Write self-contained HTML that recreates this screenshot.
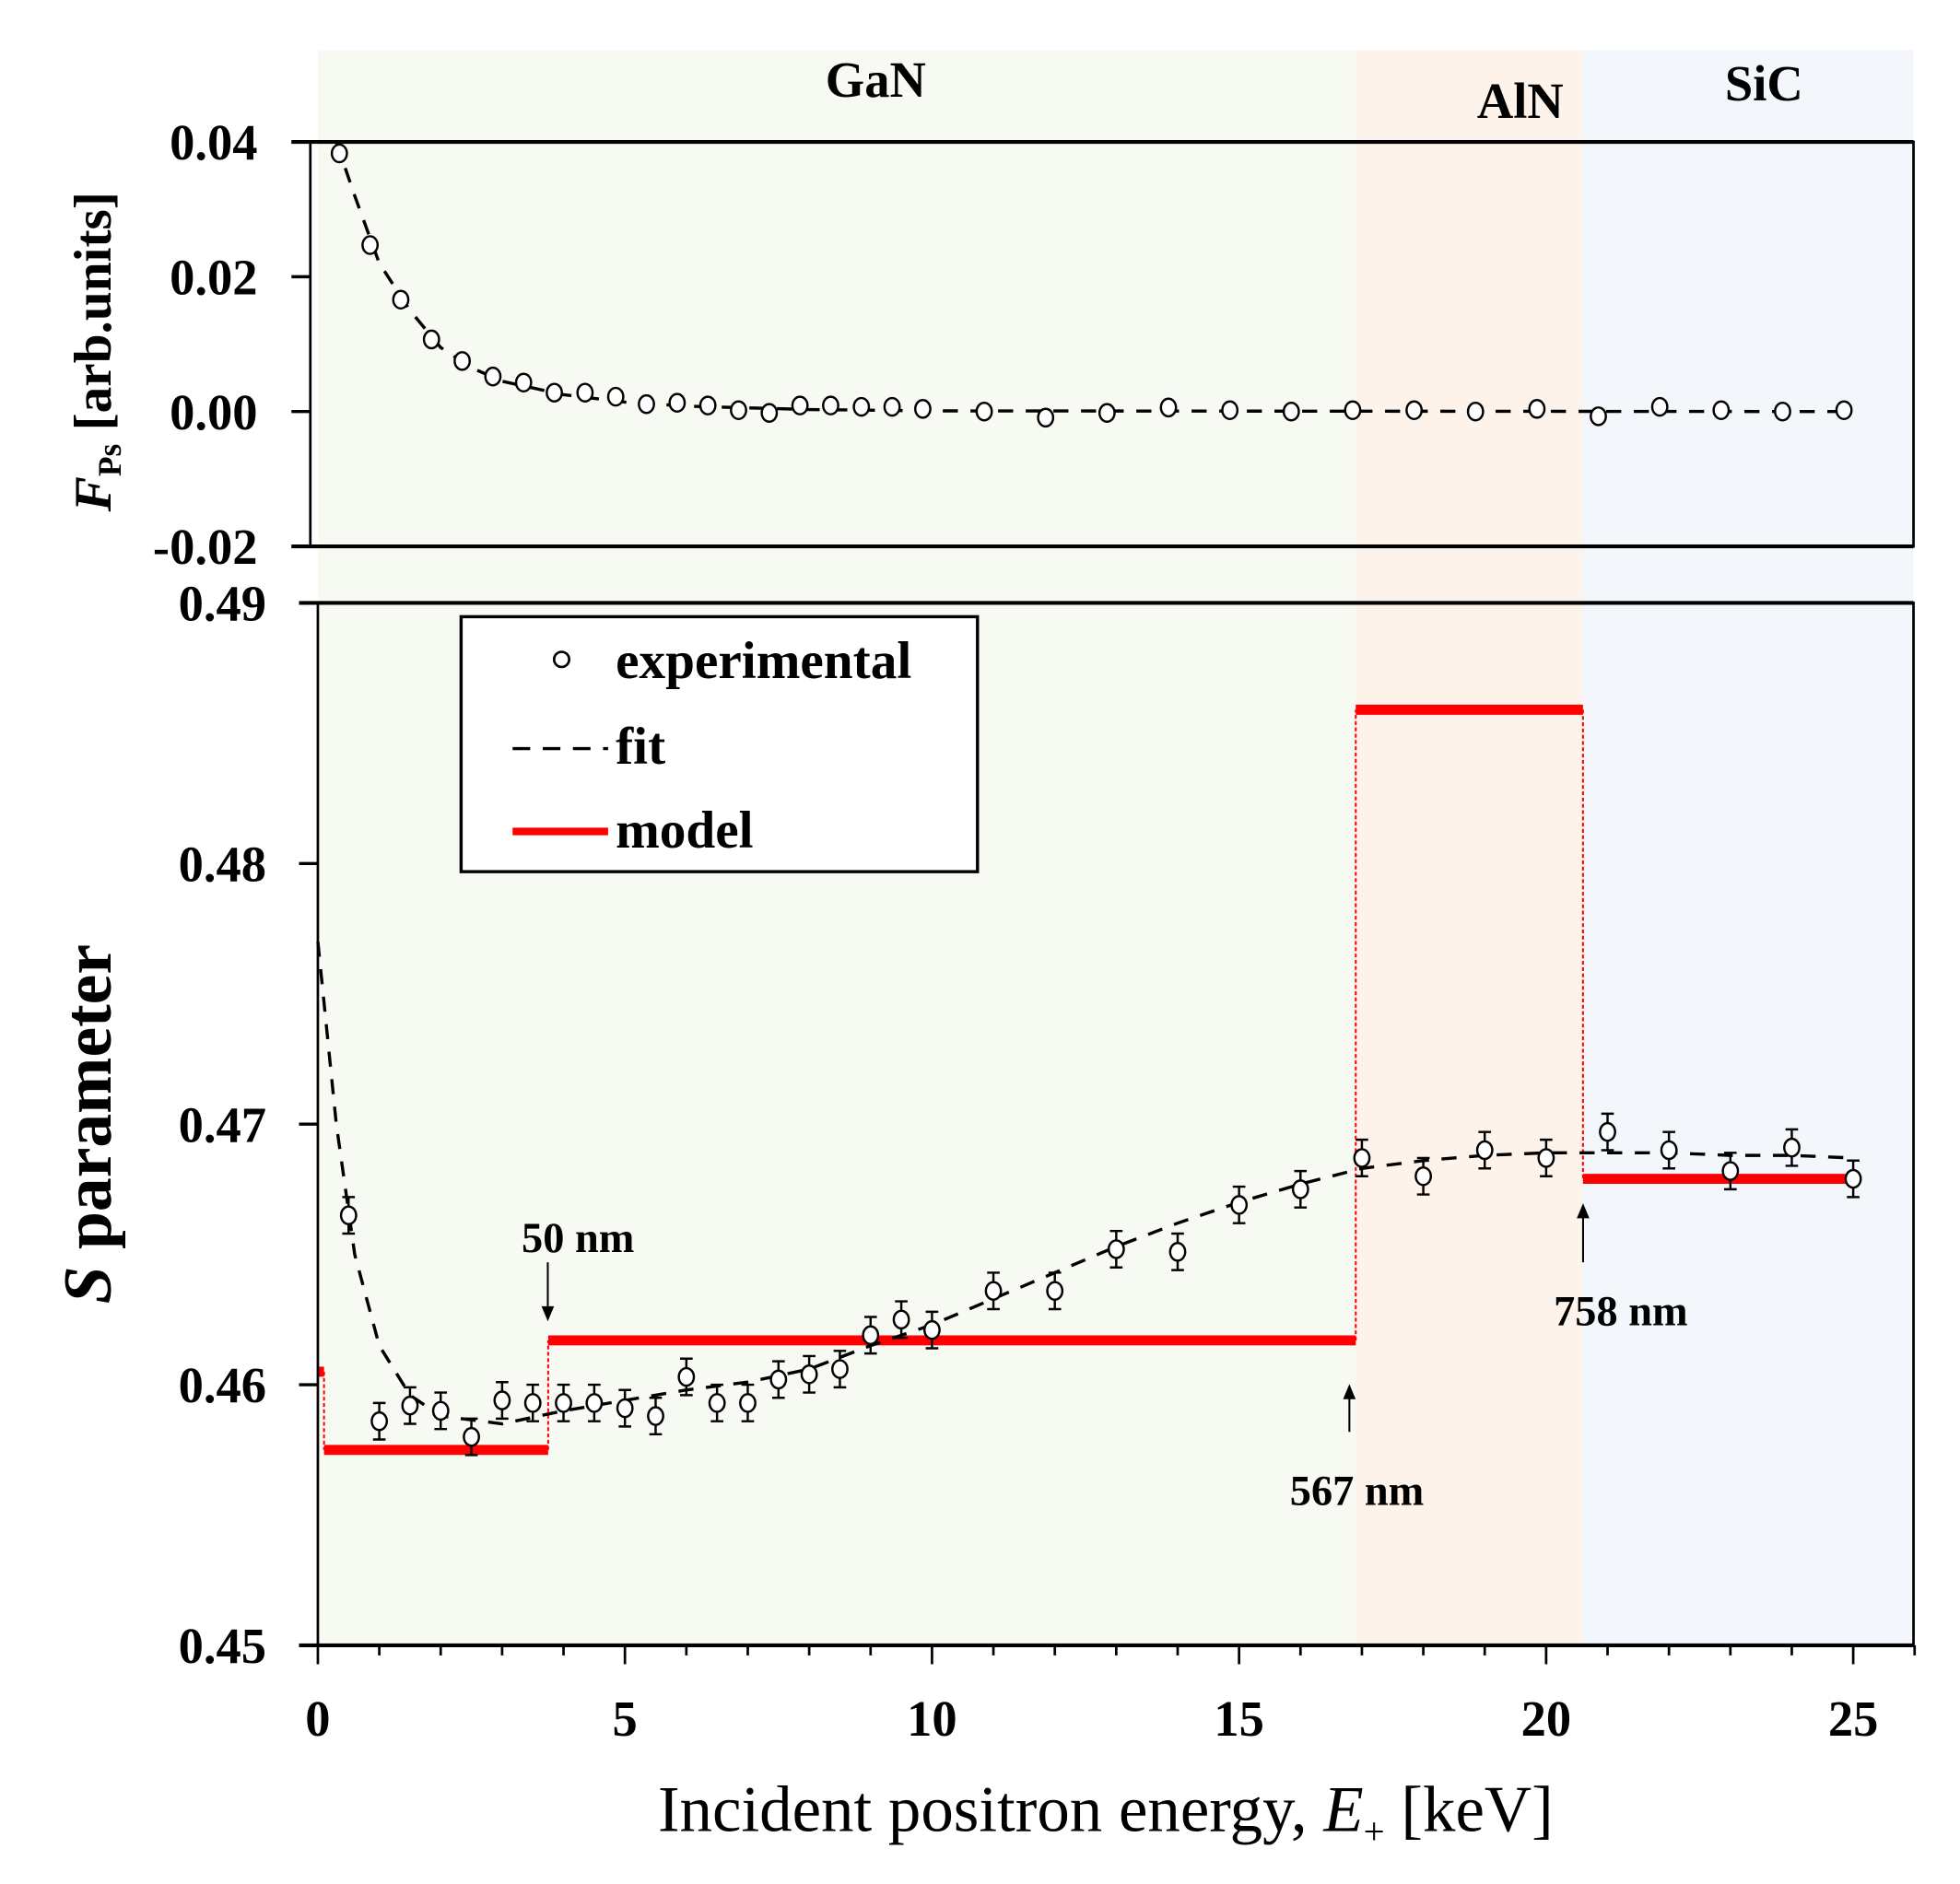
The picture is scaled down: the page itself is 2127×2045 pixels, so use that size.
<!DOCTYPE html>
<html><head><meta charset="utf-8"><style>
html,body{margin:0;padding:0;background:#fff;}
svg{display:block;font-family:"Liberation Serif",serif;}
</style></head><body>
<svg id="chart" width="2127" height="2045" viewBox="0 0 1560 1500" preserveAspectRatio="none" xmlns="http://www.w3.org/2000/svg">
<g id="bg"></g><g id="top"></g><g id="bot"></g><g id="axes"></g>
</svg>
<script>
// ---- data ----
const layerNames = ["GaN","AlN","SiC"];
const layerBounds = [0, 16.9, 20.6, 26];
const sE = [0.5,1,1.5,2,2.5,3,3.5,4,4.5,5,5.5,6,6.5,7,7.5,8,8.5,9,9.5,10,11,12,13,14,15,16,17,18,19,20,21,22,23,24,25];
const sVal = [0.4665,0.4586,0.4592,0.4590,0.4580,0.4594,0.4593,0.4593,0.4593,0.4591,0.4588,0.4603,0.4593,0.4593,0.4602,0.4604,0.4606,0.4619,0.4625,0.4621,0.4636,0.4636,0.4652,0.4651,0.4669,0.4675,0.4687,0.4680,0.4690,0.4687,0.4697,0.4690,0.4682,0.4691,0.4679];
const sErr = 0.0007;
const sFitE = [0,0.3,0.6,1,1.5,2,3,4,5,6,7,8,9,10,11,12,13,14,15,16,17,18,19,20,21,22,23,24,25];
const sFitV = [0.4770,0.4700,0.4650,0.4615,0.4596,0.4588,0.4585,0.4590,0.4594,0.4598,0.4601,0.4606,0.4615,0.4623,0.4633,0.4643,0.4653,0.4662,0.4670,0.4677,0.4683,0.4686,0.4688,0.4689,0.4689,0.4689,0.4688,0.4688,0.4687];
const modelStart = [0, 0.1, 3.75, 16.9, 20.6];
const modelEnd = [0.1, 3.75, 16.9, 20.6, 25];
const modelVal = [0.4605, 0.4575, 0.4617, 0.4859, 0.4679];
const fE = [0.35,0.85,1.35,1.85,2.35,2.85,3.35,3.85,4.35,4.85,5.35,5.85,6.35,6.85,7.35,7.85,8.35,8.85,9.35,9.85,10.85,11.85,12.85,13.85,14.85,15.85,16.85,17.85,18.85,19.85,20.85,21.85,22.85,23.85,24.85];
const fVal = [0.0383,0.0247,0.0166,0.0107,0.0075,0.0052,0.0043,0.0028,0.0028,0.0022,0.0011,0.0013,0.0009,0.0002,-0.0002,0.0009,0.0009,0.0007,0.0007,0.0004,0,-0.0009,-0.0002,0.0006,0.0002,0,0.0002,0.0002,0,0.0004,-0.0007,0.0007,0.0002,0,0.0002];
const fFitE = [0.3,0.6,1,1.5,2,2.5,3,4,5,6,8,10,25];
const fFitV = [0.040,0.032,0.022,0.015,0.0095,0.0065,0.0045,0.0025,0.0014,0.0008,0.0003,0.0001,0];
const sTicks = [0.45,0.46,0.47,0.48,0.49];
const sTickLabels = ["0.45","0.46","0.47","0.48","0.49"];
const fTicks = [-0.02,0,0.02,0.04];
const fTickLabels = ["-0.02","0.00","0.02","0.04"];
const xTicks = [0,5,10,15,20,25];
const xTickLabels = ["0","5","10","15","20","25"];

// ---- scales ----
const X = e => 253 + e*48.88;
const YS = v => 1310 - (v-0.45)/0.04*830;
const YF = v => 435 - (v+0.02)/0.06*322;
const NS="http://www.w3.org/2000/svg";
function mk(parent,tag,attrs,text){const el=document.createElementNS(NS,tag);for(const k in attrs)el.setAttribute(k,attrs[k]);if(text!==undefined)el.textContent=text;document.getElementById(parent).appendChild(el);return el;}

// backgrounds
const bgCols=["#f7f9f3","#fdf3ea","#f3f7fb"];
const labelX=[697,1210,1404], labelY=[77,94,80];
for(let i=0;i<3;i++){
  const r=mk('bg','rect',{x:X(layerBounds[i]),y:40,width:(i==2?1523:X(layerBounds[i+1]))-X(layerBounds[i]),height:1270,fill:bgCols[i]});
  
  
  const t=mk('bg','text',{x:labelX[i],y:labelY[i],'text-anchor':'middle','font-size':40,'font-weight':'bold'},layerNames[i]);
  
  
}

// top panel frame
mk('axes','rect',{x:247,y:113,width:1276,height:322,fill:'none',stroke:'#000','stroke-width':2});
mk('axes','line',{x1:232,y1:113,x2:1523,y2:113,stroke:'#000','stroke-width':3});
mk('axes','line',{x1:232,y1:435,x2:1523,y2:435,stroke:'#000','stroke-width':3});
fTicks.forEach((v,i)=>{
  mk('axes','line',{x1:232,y1:YF(v),x2:247,y2:YF(v),stroke:'#000','stroke-width':2.5});
  const t=mk('axes','text',{x:205,y:YF(v)+14,'text-anchor':'end','font-size':40,'font-weight':'bold'},fTickLabels[i]);
  
  
});
// fit top
let d=fFitE.map((e,i)=>(i?'L':'M')+X(e)+','+YF(fFitV[i])).join(' ');
const ff=mk('top','path',{d:d,fill:'none',stroke:'#000','stroke-width':2.5,'stroke-dasharray':'12,10'});


fE.forEach((e,i)=>{
  const c=mk('top','ellipse',{cx:X(e),cy:YF(fVal[i]),rx:6,ry:7,fill:'#fff',stroke:'#000','stroke-width':1.8});
  
  
});

// bottom frame
mk('axes','rect',{x:253,y:480,width:1270,height:830,fill:'none',stroke:'#000','stroke-width':2});
mk('axes','line',{x1:238,y1:480,x2:1523,y2:480,stroke:'#000','stroke-width':3});
mk('axes','line',{x1:238,y1:1310,x2:1523,y2:1310,stroke:'#000','stroke-width':3});
sTicks.forEach((v,i)=>{
  mk('axes','line',{x1:238,y1:YS(v),x2:253,y2:YS(v),stroke:'#000','stroke-width':2.5});
  const t=mk('axes','text',{x:212,y:YS(v)+14,'text-anchor':'end','font-size':40,'font-weight':'bold'},sTickLabels[i]);
  
  
});
for(let e=0;e<=26;e++){
  const major=e%5==0;
  mk('axes','line',{x1:X(e),y1:1310,x2:X(e),y2:major?1325:1318,stroke:'#000','stroke-width':2});
}
xTicks.forEach((v,i)=>{
  const t=mk('axes','text',{x:X(v),y:1382,'text-anchor':'middle','font-size':40,'font-weight':'bold'},xTickLabels[i]);
  
  
});

// model
for(let i=0;i<modelVal.length;i++){
  const l=mk('bot','line',{x1:X(modelStart[i]),y1:YS(modelVal[i]),x2:X(modelEnd[i]),y2:YS(modelVal[i]),stroke:'#ff0000','stroke-width':8});
  
  
  if(i>0){
    mk('bot','line',{x1:X(modelStart[i]),y1:YS(modelVal[i-1]),x2:X(modelStart[i]),y2:YS(modelVal[i]),stroke:'#ff0000','stroke-width':1.5,'stroke-dasharray':'3,2'});
  }
}
// fit bottom
d=sFitE.map((e,i)=>(i?'L':'M')+X(e)+','+YS(sFitV[i])).join(' ');
const sf=mk('bot','path',{d:d,fill:'none',stroke:'#000','stroke-width':2.5,'stroke-dasharray':'12,10'});


sE.forEach((e,i)=>{
  const x=X(e),y1=YS(sVal[i]+sErr),y2=YS(sVal[i]-sErr);
  mk('bot','path',{d:`M${x},${y1}V${y2}M${x-5},${y1}H${x+5}M${x-5},${y2}H${x+5}`,stroke:'#000','stroke-width':1.8,fill:'none'});
  const c=mk('bot','ellipse',{cx:x,cy:YS(sVal[i]),rx:6,ry:7,fill:'#fff',stroke:'#000','stroke-width':1.8});
  
  
});
</script>
<svg style="position:absolute;left:0;top:0" width="2127" height="2045" viewBox="0 0 1560 1500" preserveAspectRatio="none" xmlns="http://www.w3.org/2000/svg" font-family="Liberation Serif, serif">
<g>
<rect x="367" y="491" width="411" height="203" fill="#fff" stroke="#000" stroke-width="2.5"/>
<circle cx="447" cy="525" r="6" fill="#fff" stroke="#000" stroke-width="2"/>
<text x="490" y="540" font-size="42" font-weight="bold">experimental</text>
<line x1="408" y1="596" x2="484" y2="596" stroke="#000" stroke-width="2.5" stroke-dasharray="14,10"/>
<text x="490" y="608" font-size="42" font-weight="bold">fit</text>
<line x1="408" y1="662" x2="484" y2="662" stroke="#f00" stroke-width="6"/>
<text x="490" y="675" font-size="42" font-weight="bold">model</text>
</g>
<g>
<text x="460" y="997" text-anchor="middle" font-size="34" font-weight="bold">50 nm</text>
<line x1="436" y1="1005" x2="436" y2="1048" stroke="#000" stroke-width="1.5"/>
<path d="M431,1040 L436,1052 L441,1040" fill="#000"/>
</g>
<g>
<text x="1080" y="1198" text-anchor="middle" font-size="34" font-weight="bold">567 nm</text>
<line x1="1074" y1="1140" x2="1074" y2="1106" stroke="#000" stroke-width="1.5"/>
<path d="M1069,1114 L1074,1102 L1079,1114" fill="#000"/>
</g>
<g>
<text x="1290" y="1055" text-anchor="middle" font-size="34" font-weight="bold">758 nm</text>
<line x1="1260" y1="1005" x2="1260" y2="962" stroke="#000" stroke-width="1.5"/>
<path d="M1255,970 L1260,958 L1265,970" fill="#000"/>
</g>
<text x="880" y="1458" text-anchor="middle" font-size="52">Incident positron energy, <tspan font-style="italic">E</tspan><tspan font-size="30" dy="10">+</tspan><tspan dy="-10"> [keV]</tspan></text>
<text transform="translate(88,895) rotate(-90)" text-anchor="middle" font-size="54" font-weight="bold"><tspan font-style="italic">S</tspan> parameter</text>
<text transform="translate(88,280) rotate(-90)" text-anchor="middle" font-size="42" font-weight="bold"><tspan font-style="italic">F</tspan><tspan font-size="26" dy="8">Ps</tspan><tspan dy="-8"> [arb.units]</tspan></text>
</svg>
</body></html>
